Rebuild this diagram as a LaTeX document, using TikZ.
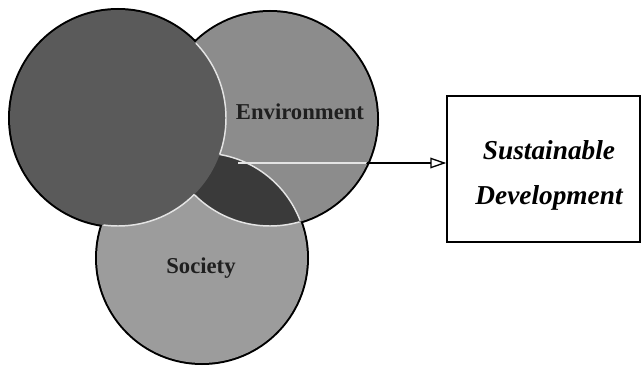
\documentclass[tikz,border=0pt]{standalone}
\usepackage{fontspec}
\setmainfont{Liberation Serif}
\usetikzlibrary{arrows.meta}
\definecolor{leftc}{HTML}{5A5A5A}
\definecolor{rightc}{HTML}{8C8C8C}
\definecolor{botc}{HTML}{9C9C9C}
\definecolor{darkc}{HTML}{3A3A3A}
\definecolor{edgec}{HTML}{E4E4E4}
\begin{document}
\begin{tikzpicture}[x=0.75pt,y=-0.75pt,
  outline/.style={draw=black,line width=3pt},
  inneredge/.style={draw=edgec,line width=1.1pt},
  lbl/.style={font=\bfseries\fontsize{17}{19}\selectfont,text=black!88},
  sdbox/.style={draw=black,line width=1.1pt,fill=white,inner sep=0pt},
  sdtext/.style={font=\bfseries\itshape\fontsize{20.5}{24}\selectfont,inner sep=0pt}]
\useasboundingbox (0,0) rectangle (642,367);
\coordinate (L) at (118,118);
\coordinate (R) at (270,119);
\coordinate (B) at (202,258);
% outer outline (inner half covered by fills)
\draw[outline] (L) circle (108) (R) circle (107) (B) circle (105);
% fills
\fill[botc] (B) circle (105);
\fill[rightc] (R) circle (107);
\begin{scope}
  \clip (R) circle (107);
  \fill[darkc] (B) circle (105);
\end{scope}
% edges of the lens R and B
\begin{scope}
  \clip (R) circle (106);
  \draw[inneredge] (B) circle (105);
\end{scope}
\begin{scope}
  \clip (B) circle (104);
  \draw[inneredge] (R) circle (107);
\end{scope}
% left circle on top
\fill[leftc] (L) circle (108);
\begin{scope}
  \clip (R) circle (106);
  \begin{scope}[even odd rule]
    \clip (B) circle (105) (-20,-20) rectangle (700,400);
    \draw[inneredge] (L) circle (108);
  \end{scope}
\end{scope}
\begin{scope}
  \clip (B) circle (104);
  \begin{scope}[even odd rule]
    \clip (R) circle (107) (-20,-20) rectangle (700,400);
    \draw[inneredge] (L) circle (108);
  \end{scope}
\end{scope}
% labels
\node[lbl] (env) at (300,112) {Environment};
\node[lbl] (soc) at (201,268) {Society};
% box
\node[sdbox, minimum width=144.75pt, minimum height=109.5pt] (sd) at (543.5,169) {};
\node[sdtext] (t1) at (549,150) {Sustainable};
\node[sdtext] (t2) at (549,198) {Development};
% arrow
\coordinate (as) at (238,163);
\draw[line width=1pt,-{Triangle[open,length=12pt,width=8pt]}] (as) -- (as -| sd.west);
\begin{scope}
  \clip (R) circle (106);
  \draw[edgec,line width=1.2pt] (as) -- (as -| sd.west);
\end{scope}
\end{tikzpicture}
\end{document}
